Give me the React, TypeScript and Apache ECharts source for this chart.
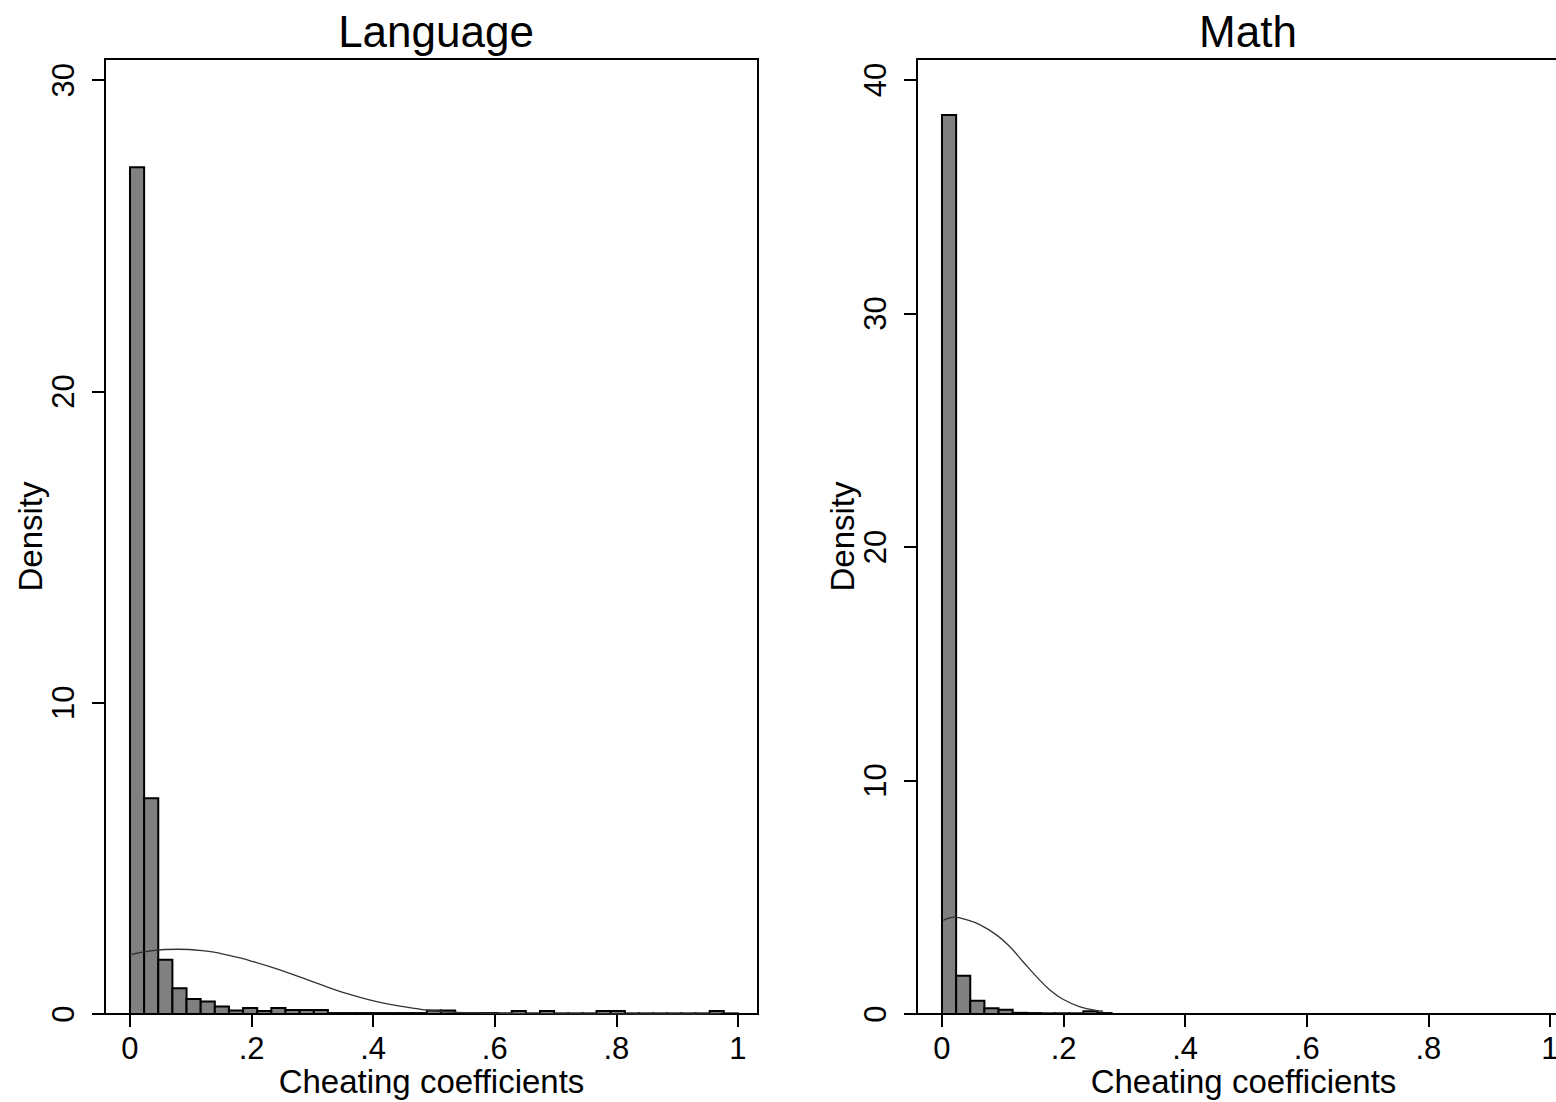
import React, { useEffect, useRef } from "react";
import * as echarts from "echarts";

// Histogram bins: 43 equal bins from 0 to 1
const binCount = 43;
const binWidth = 1 / binCount;

const languageDensity = [
  27.2, 6.93, 1.74, 0.83, 0.48, 0.4, 0.24, 0.11, 0.19, 0.1,
  0.19, 0.13, 0.13, 0.13, 0.03, 0.03, 0.03, 0.03, 0.03, 0.03,
  0.03, 0.11, 0.11, 0.03, 0.03, 0.03, 0.02, 0.1, 0.02, 0.1,
  0.02, 0.02, 0.02, 0.1, 0.1, 0.02, 0.02, 0.02, 0.02, 0.02,
  0.02, 0.1, 0.02,
];

const mathDensity = [
  38.5, 1.64, 0.57, 0.25, 0.18, 0.05, 0.04, 0.03, 0.03, 0.03,
  0.12, 0.04, 0, 0, 0, 0, 0, 0, 0, 0,
  0, 0, 0, 0, 0, 0, 0, 0, 0, 0,
  0, 0, 0, 0, 0, 0, 0, 0, 0, 0,
  0, 0, 0,
];

// Normal density overlays: [x, density]
const languageCurve: [number, number][] = [
  [0, 1.9], [0.038, 2.04], [0.08, 2.08], [0.126, 2.02], [0.148, 1.95],
  [0.181, 1.8], [0.203, 1.68], [0.23, 1.52], [0.258, 1.34], [0.285, 1.15],
  [0.313, 0.95], [0.339, 0.77], [0.367, 0.6], [0.389, 0.48], [0.417, 0.35],
  [0.444, 0.25], [0.472, 0.17], [0.49, 0.12], [0.53, 0.06], [0.58, 0.03],
  [0.65, 0.01], [0.8, 0.0], [0.97, 0.0],
];

const mathCurve: [number, number][] = [
  [0.002, 4.01], [0.021, 4.15], [0.04, 4.04], [0.062, 3.83], [0.089, 3.4],
  [0.111, 2.9], [0.133, 2.25], [0.155, 1.61], [0.177, 1.04], [0.199, 0.63],
  [0.226, 0.32], [0.253, 0.15], [0.265, 0.12],
];

const panelTitles = ["Language", "Math"];
const xTicks = [0, 0.2, 0.4, 0.6, 0.8, 1];
const languageYTicks = [0, 10, 20, 30];
const mathYTicks = [0, 10, 20, 30, 40];
const xAxisTitle = "Cheating coefficients";
const yAxisTitle = "Density";

const FONT = "'Liberation Sans', Arial, sans-serif";

function binsToData(vals: number[]) {
  return vals
    .map((h, i) => [i * binWidth, (i + 1) * binWidth, h])
    .filter((d) => d[2] > 0);
}

const fmtX = (v: number) => {
  if (v === 0) return "0";
  if (v === 1) return "1";
  return String(v).replace(/^0/, "");
};

export default function App() {
  const ref = useRef<HTMLDivElement>(null);
  useEffect(() => {
    if (!ref.current) return;
    const chart = echarts.init(ref.current, null, { renderer: "svg" });

    const renderBar = (params: any, api: any) => {
      const x0 = api.value(0);
      const x1 = api.value(1);
      const h = api.value(2);
      const p0 = api.coord([x0, h]);
      const p1 = api.coord([x1, 0]);
      return {
        type: "rect",
        shape: { x: p0[0], y: p0[1], width: p1[0] - p0[0], height: p1[1] - p0[1] },
        style: { fill: "#808080", stroke: "#000", lineWidth: 2 },
      };
    };

    const xAxisCommon = (gridIndex: number) => ({
      type: "value",
      gridIndex,
      min: -0.0411,
      max: 1.033,
      splitLine: { show: false },
      axisLine: { show: true, onZero: false, lineStyle: { color: "#000", width: 2 } },
      axisTick: { show: true, length: 13, lineStyle: { color: "#000", width: 2 }, customValues: xTicks },
      axisLabel: {
        customValues: xTicks,
        formatter: fmtX,
        fontSize: 31,
        lineHeight: 31,
        color: "#000",
        fontFamily: FONT,
        margin: 19,
      },
      name: xAxisTitle,
      nameLocation: "middle",
      nameGap: 51,
      nameMoveOverlap: false,
      nameTextStyle: { fontSize: 33, lineHeight: 33, color: "#000", fontFamily: FONT },
    });

    const yAxisCommon = (gridIndex: number, max: number, ticks: number[]) => ({
      type: "value",
      gridIndex,
      min: 0,
      max,
      splitLine: { show: false },
      axisLine: { show: true, onZero: false, lineStyle: { color: "#000", width: 2 } },
      axisTick: { show: true, length: 13, lineStyle: { color: "#000", width: 2 }, customValues: ticks },
      axisLabel: {
        customValues: ticks,
        rotate: 90,
        fontSize: 31,
        color: "#000",
        fontFamily: FONT,
        margin: 26,
      },
      name: yAxisTitle,
      nameLocation: "middle",
      nameGap: 58,
      nameMoveOverlap: false,
      nameTextStyle: { fontSize: 33, color: "#000", fontFamily: FONT },
    });

    chart.setOption({
      animation: false,
      backgroundColor: "#fff",
      title: [
        {
          text: panelTitles[0],
          left: 431,
          top: 4,
          textAlign: "center",
          textStyle: { fontSize: 44, fontWeight: "normal", color: "#000", fontFamily: FONT },
        },
        {
          text: panelTitles[1],
          left: 1243,
          top: 4,
          textAlign: "center",
          textStyle: { fontSize: 44, fontWeight: "normal", color: "#000", fontFamily: FONT },
        },
      ],
      grid: [
        { left: 105, top: 59, width: 653, height: 955, outerBoundsMode: "none", containLabel: false, show: true, borderColor: "#000", borderWidth: 2, backgroundColor: "#fff" },
        { left: 917, top: 59, width: 653, height: 955, outerBoundsMode: "none", containLabel: false, show: true, borderColor: "#000", borderWidth: 2, backgroundColor: "#fff" },
      ],
      xAxis: [xAxisCommon(0), xAxisCommon(1)],
      yAxis: [yAxisCommon(0, 30.68, languageYTicks), yAxisCommon(1, 40.9, mathYTicks)],
      series: [
        {
          type: "custom",
          xAxisIndex: 0,
          yAxisIndex: 0,
          renderItem: renderBar,
          encode: { x: [0, 1], y: 2 },
          data: binsToData(languageDensity),
          z: 2,
        },
        {
          type: "line",
          xAxisIndex: 0,
          yAxisIndex: 0,
          data: languageCurve,
          smooth: 0.4,
          symbol: "none",
          lineStyle: { color: "#333", width: 1.3 },
          z: 3,
        },
        {
          type: "custom",
          xAxisIndex: 1,
          yAxisIndex: 1,
          renderItem: renderBar,
          encode: { x: [0, 1], y: 2 },
          data: binsToData(mathDensity),
          z: 2,
        },
        {
          type: "line",
          xAxisIndex: 1,
          yAxisIndex: 1,
          data: mathCurve,
          smooth: 0.4,
          symbol: "none",
          lineStyle: { color: "#333", width: 1.3 },
          z: 3,
        },
      ],
    });
    return () => chart.dispose();
  }, []);
  return (
    <div
      ref={ref}
      style={{ position: "absolute", left: 0, top: 0, width: 1556, height: 1102 }}
    />
  );
}
